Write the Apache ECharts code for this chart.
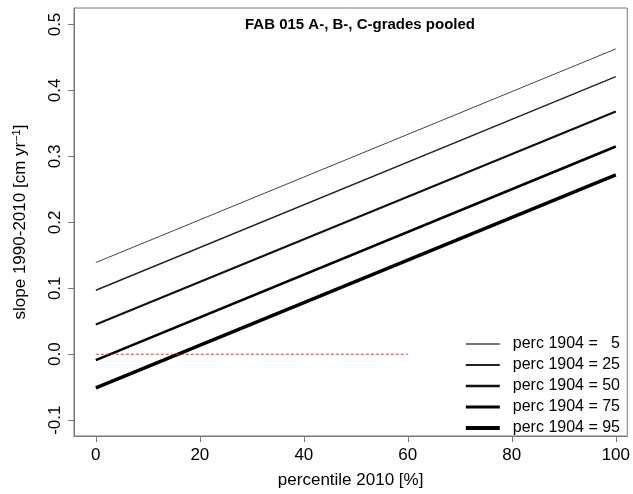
<!DOCTYPE html>
<html>
<head>
<meta charset="utf-8">
<script src="https://cdn.jsdelivr.net/npm/echarts@6/dist/echarts.min.js"></script>
<style>html,body{margin:0;padding:0;background:#fff}#main{width:633px;height:494px}</style>
</head>
<body>
<div id="main"></div>
<script>
// percentile 2010 (x) end points
const xValues = [0, 100];
const seriesNames = ['perc 1904 =   5', 'perc 1904 = 25', 'perc 1904 = 50', 'perc 1904 = 75', 'perc 1904 = 95'];
const startValues = [0.139, 0.097, 0.045, -0.009, -0.051];
const endValues = [0.463, 0.421, 0.368, 0.315, 0.272];
const lineWidths = [1, 1.4, 2, 2.6, 3.4];
const lineColors = ['#444', '#222', '#111', '#000', '#000'];
const zeroLine = [[0, 0], [60, 0]];
const xTicks = [0, 20, 40, 60, 80, 100];
const yTicks = [-0.1, 0, 0.1, 0.2, 0.3, 0.4, 0.5];

const chart = echarts.init(document.getElementById('main'));
const font = 'Liberation Sans, Arial, sans-serif';

const series = seriesNames.map((name, i) => ({
  name: name,
  type: 'line',
  symbol: 'none',
  silent: true,
  data: [[xValues[0], startValues[i]], [xValues[1], endValues[i]]],
  lineStyle: { width: lineWidths[i], color: lineColors[i] },
  itemStyle: { color: lineColors[i] }
}));
series.push({
  name: 'zero',
  type: 'line',
  symbol: 'none',
  silent: true,
  data: zeroLine,
  lineStyle: { width: 1, color: '#d04040', type: [3, 2] },
  itemStyle: { color: '#d04040' }
});

// one legend per entry so each key line gets its own thickness
const legends = seriesNames.map((name, i) => ({
  data: [name],
  right: 8, top: 331 + i * 21,
  selectedMode: false,
  itemWidth: 34, itemHeight: lineWidths[i] + 0.5,
  icon: 'rect',
  textStyle: { fontFamily: font, fontSize: 16, color: '#000', padding: [0, 0, 0, 8] }
}));

chart.setOption({
  animation: false,
  title: {
    text: 'FAB 015 A-, B-, C-grades pooled',
    left: 355, top: 12, textAlign: 'center',
    textStyle: { fontFamily: font, fontSize: 15, fontWeight: 'bold', color: '#000' }
  },
  legend: legends,
  grid: { left: 74, right: 5, top: 8, bottom: 50, show: true, borderColor: '#777', borderWidth: 1 },
  xAxis: {
    type: 'value', min: -4.2, max: 102.2,
    name: 'percentile 2010 [%]', nameLocation: 'middle', nameGap: 36,
    nameTextStyle: { fontFamily: font, fontSize: 17, color: '#000' },
    axisLine: { show: true, onZero: false, lineStyle: { color: '#777' } },
    axisTick: { show: true, length: 6, customValues: xTicks, lineStyle: { color: '#777' } },
    axisLabel: { customValues: xTicks, fontFamily: font, fontSize: 17, color: '#000', margin: 11 },
    splitLine: { show: false }
  },
  yAxis: {
    type: 'value', min: -0.124, max: 0.525,
    name: 'slope 1990-2010 [cm yr{sup|−1}]', nameLocation: 'middle', nameGap: 44, nameRotate: 90,
    nameTextStyle: { fontFamily: font, fontSize: 17, color: '#000',
      rich: { sup: { fontSize: 11, verticalAlign: 'top', padding: [0, 0, 8, 0], fontFamily: font } } },
    axisLine: { show: true, onZero: false, lineStyle: { color: '#777' } },
    axisTick: { show: true, length: 6, customValues: yTicks, lineStyle: { color: '#777' } },
    axisLabel: { customValues: yTicks, rotate: 90, fontFamily: font, fontSize: 17, color: '#000', margin: 10,
      formatter: v => v.toFixed(1) },
    splitLine: { show: false }
  },
  series: series
});
</script>
</body>
</html>
